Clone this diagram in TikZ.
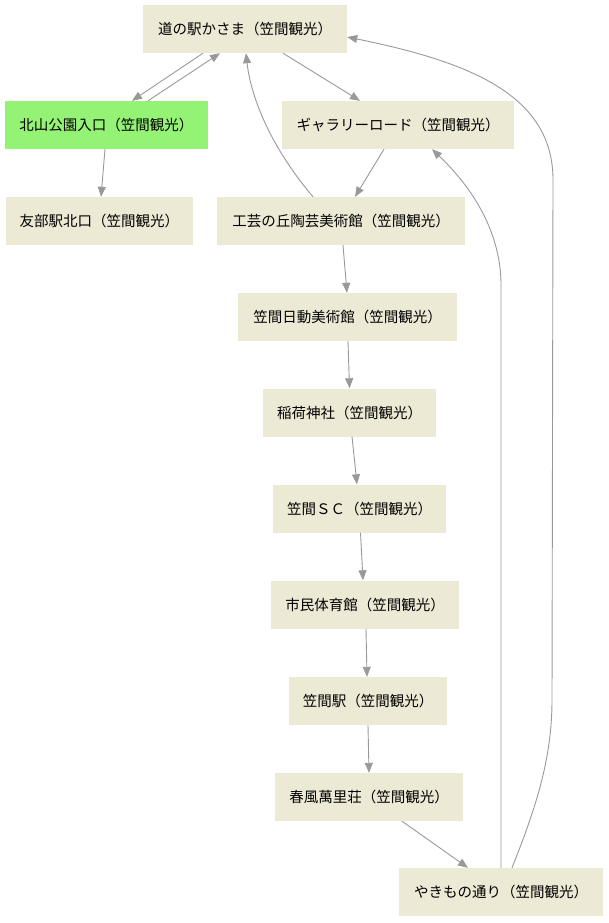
\documentclass[tikz,border=0pt]{standalone}
\usepackage{fontspec}
\setmainfont{Noto Sans CJK JP}
\usetikzlibrary{arrows.meta}
\definecolor{SpotBeige}{RGB}{236, 233, 213}
\definecolor{SpotGreen}{RGB}{148, 242, 116}
\definecolor{RouteGray}{RGB}{153, 153, 153}
\newcommand{\lw}{0.9pt}

\begin{document}
\begin{tikzpicture}[x=1pt, y=-1pt,
  spot/.style={fill=SpotBeige, minimum height=48pt, inner sep=0pt,
    font=\fontsize{14.5}{17}\selectfont},
  route/.style={draw=RouteGray, line width=\lw,
    -{Triangle[length=10pt, width=8pt, fill=RouteGray]}}]
  \useasboundingbox (0,0) rectangle (608,923);
  \node[spot, minimum width=204pt] (michi)   at (245,   29)   {道の駅かさま（笠間観光）};
  \node[spot, minimum width=203pt, fill=SpotGreen] (kita) at (106.5, 125) {北山公園入口（笠間観光）};
  \node[spot, minimum width=232pt] (gal)     at (398,   125)  {ギャラリーロード（笠間観光）};
  \node[spot, minimum width=187pt] (tomobe)  at (99.5,  221)  {友部駅北口（笠間観光）};
  \node[spot, minimum width=248pt] (kougei)  at (341,   221)  {工芸の丘陶芸美術館（笠間観光）};
  \node[spot, minimum width=219pt] (nichido) at (347.5, 317)  {笠間日動美術館（笠間観光）};
  \node[spot, minimum width=173pt] (inari)   at (349.5, 412.5){稲荷神社（笠間観光）};
  \node[spot, minimum width=173pt] (sc)      at (359.5, 508.5){笠間ＳＣ（笠間観光）};
  \node[spot, minimum width=188pt] (shimin)  at (365,   604.5){市民体育館（笠間観光）};
  \node[spot, minimum width=158pt] (eki)     at (368,   701)  {笠間駅（笠間観光）};
  \node[spot, minimum width=188pt] (shunpu)  at (369,   797)  {春風萬里荘（笠間観光）};
  \node[spot, minimum width=204pt] (yaki)    at (501,   892)  {やきもの通り（笠間観光）};

  \draw[route] ([xshift=-42pt]michi.south) -- ([xshift=25.5pt]kita.north);
  \draw[route] ([xshift=41.5pt]kita.north) -- ([xshift=-25pt]michi.south);
  \draw[route] ([xshift=38pt]michi.south) -- ([xshift=-38pt]gal.north);
  \draw[route] ([xshift=-28pt]kougei.north) .. controls (265,140) and (250,90) .. ([xshift=1pt]michi.south);
  \draw[route] ([xshift=-14pt]gal.south) -- ([xshift=14pt]kougei.north);
  \draw[route] ([xshift=-1.5pt]kita.south) -- ([xshift=1.5pt]tomobe.north);
  \draw[route] ([xshift=2pt]kougei.south) -- ([xshift=-0.5pt]nichido.north);
  \draw[route] ([xshift=0.5pt]nichido.south) -- (inari.north);
  \draw[route] ([xshift=2.5pt]inari.south) -- ([xshift=-2.5pt]sc.north);
  \draw[route] ([xshift=1pt]sc.south) -- ([xshift=-2pt]shimin.north);
  \draw[route] ([xshift=1pt]shimin.south) -- ([xshift=-1pt]eki.north);
  \draw[route] (eki.south) -- (shunpu.north);
  \draw[route] ([xshift=33pt]shunpu.south) -- ([xshift=-33pt]yaki.north);
  \draw[route] (yaki.north) -- (501,285) .. controls (501,240) and (480,195) .. ([xshift=34pt]gal.south);
  \draw[route] ([xshift=11pt]yaki.north) .. controls (535,810) and (552,760) .. (552,700)
    -- (553,180) .. controls (553,95) and (470,62) .. ([yshift=-8pt]michi.east);
\end{tikzpicture}
\end{document}
